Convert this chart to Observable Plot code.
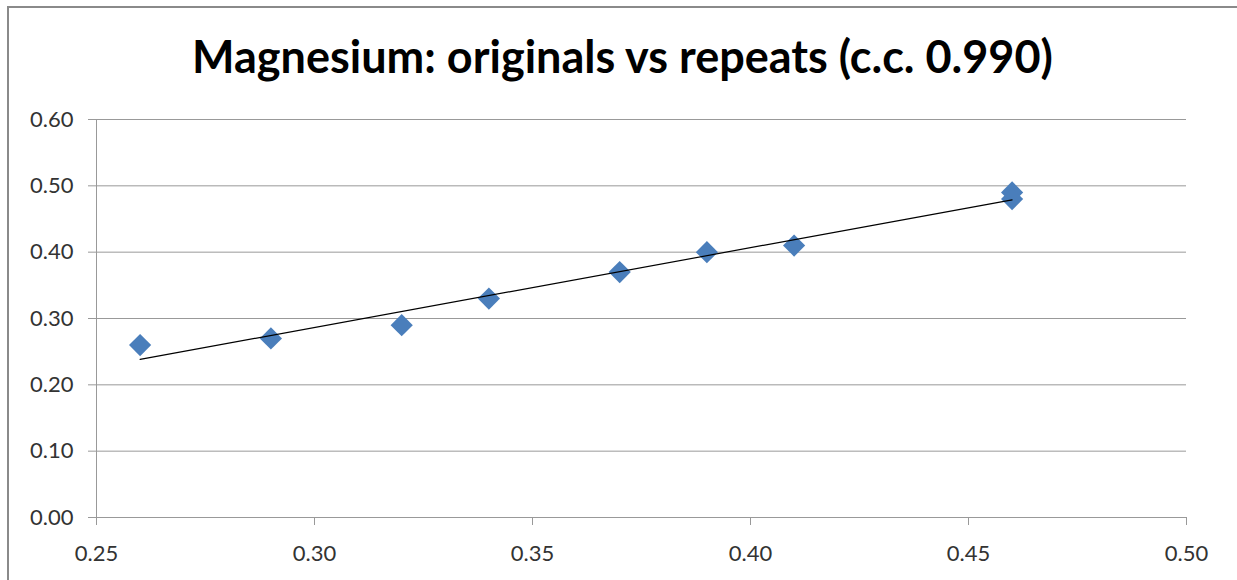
<!DOCTYPE html>
<html><head><meta charset="utf-8">
<script src="https://cdn.jsdelivr.net/npm/d3@7"></script>
<script src="https://cdn.jsdelivr.net/npm/@observablehq/plot@0.6"></script>
<style>
body{margin:0;background:#fff;}
#wrap{position:relative;width:1237px;height:580px;overflow:hidden;background:#fff;}
#frame{position:absolute;left:7px;top:6px;width:1240px;height:600px;border-left:2px solid #8a8a8a;border-top:2px solid #8a8a8a;}
#title{position:absolute;left:4px;width:1237px;top:34px;text-align:center;font-family:Lato,sans-serif;font-weight:bold;font-size:45px;line-height:45px;color:#000;white-space:nowrap;}
#chart{position:absolute;left:0;top:0;}
</style></head>
<body>
<div id="wrap"><div id="frame"></div><div id="chart"></div><div id="title">Magnesium: originals vs repeats (c.c. 0.990)</div></div>
<script>
const originals = [0.26, 0.29, 0.32, 0.34, 0.37, 0.39, 0.41, 0.46, 0.46];
const repeats   = [0.26, 0.27, 0.29, 0.33, 0.37, 0.40, 0.41, 0.49, 0.48];
const xTicks = [0.25, 0.30, 0.35, 0.40, 0.45, 0.50];
const yTicks = [0.00, 0.10, 0.20, 0.30, 0.40, 0.50, 0.60];

const data = originals.map((x, i) => ({x, y: repeats[i]}));
const gridColor = "#999";

const chart = Plot.plot({
  width: 1237, height: 580,
  marginTop: 119, marginLeft: 96, marginRight: 51, marginBottom: 63,
  style: {fontFamily: "Lato, sans-serif", fontSize: "22px", color: "#333", background: "transparent", overflow: "visible"},
  x: {domain: [0.25, 0.50]},
  y: {domain: [0, 0.60]},
  marks: [
    Plot.gridY(yTicks, {stroke: gridColor, strokeOpacity: 1}),
    Plot.ruleX([0.25], {stroke: gridColor}),
    Plot.axisY({ticks: yTicks, tickFormat: d3.format(".2f"), tickSize: 8, tickPadding: 15, stroke: gridColor, fill: "#333", label: null}),
    Plot.axisX({ticks: xTicks, tickFormat: d3.format(".2f"), tickSize: 8, tickPadding: 20, stroke: gridColor, fill: "#333", label: null}),
    Plot.dot(data, {x: "x", y: "y", symbol: "diamond2", r: 10, fill: "#4a7ebb"}),
    Plot.linearRegressionY(data, {x: "x", y: "y", stroke: "#000", strokeWidth: 1.2, ci: 0})
  ]
});
document.getElementById("chart").appendChild(chart);
</script>
</body></html>
